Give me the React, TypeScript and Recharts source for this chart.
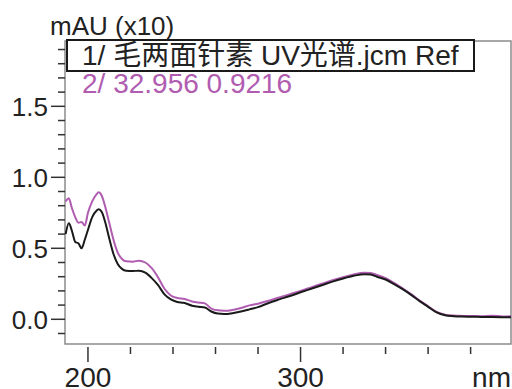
import React from "react";
import { Line, LineChart, ReferenceArea, XAxis, YAxis } from "recharts";

const wavelengths = [
  189.5, 191, 192.5, 194, 195.5, 197, 198.5, 200, 202, 204, 205, 206.5, 208, 210, 212, 214, 216, 218, 221,
  224, 227, 230, 233, 236, 239, 242, 245, 249, 252, 255, 258, 261, 264, 268, 272, 276, 280, 285, 290, 295,
  300, 305, 310, 315, 320, 325, 330, 333, 336, 340, 344, 348, 352, 356, 360, 364, 368, 372, 376, 380, 385,
  390, 395, 399,
];

const refSpectrum = [
  0.6, 0.676, 0.62, 0.545, 0.535, 0.5, 0.56, 0.63, 0.72, 0.765, 0.775, 0.755, 0.69, 0.57, 0.46, 0.39, 0.355,
  0.342, 0.34, 0.342, 0.328, 0.29, 0.24, 0.175, 0.14, 0.122, 0.116, 0.096, 0.088, 0.083, 0.055, 0.04, 0.037,
  0.043, 0.055, 0.07, 0.086, 0.115, 0.14, 0.164, 0.19, 0.215, 0.24, 0.265, 0.287, 0.306, 0.318, 0.316, 0.3,
  0.28, 0.248, 0.212, 0.172, 0.128, 0.088, 0.048, 0.028, 0.022, 0.019, 0.018, 0.017, 0.016, 0.015, 0.014,
];

const peakSpectrum = [
  0.83, 0.852, 0.78, 0.72, 0.68, 0.685, 0.66, 0.75, 0.83, 0.88, 0.894, 0.87, 0.8, 0.68, 0.56, 0.47, 0.425,
  0.408, 0.406, 0.413, 0.4, 0.36, 0.295, 0.215, 0.168, 0.15, 0.144, 0.126, 0.118, 0.112, 0.075, 0.063, 0.06,
  0.066, 0.08, 0.098, 0.11, 0.131, 0.153, 0.177, 0.2, 0.225, 0.25, 0.275, 0.297, 0.316, 0.328, 0.326, 0.312,
  0.29, 0.256, 0.218, 0.178, 0.132, 0.092, 0.052, 0.032, 0.026, 0.024, 0.023, 0.022, 0.025, 0.02, 0.022,
];

const xTicks = [200, 220, 240, 260, 280, 300, 320, 340, 360, 380];
const yTicks = [
  -0.1, 0, 0.1, 0.2, 0.3, 0.4, 0.5, 0.6, 0.7, 0.8, 0.9, 1.0, 1.1, 1.2, 1.3, 1.4, 1.5, 1.6, 1.7, 1.8, 1.9,
];

const legendRef = "1/ 毛两面针素 UV光谱.jcm Ref";
const legendPeak = "2/ 32.956 0.9216";

const X_DOMAIN: [number, number] = [189.2, 399];
const Y_DOMAIN: [number, number] = [-0.174, 1.96];

const PURPLE = "#b05cb0";
const FONT = '"Liberation Sans", Arial, "Noto Sans CJK SC", sans-serif';

const data = wavelengths.map((nm, i) => ({ nm, ref: refSpectrum[i], peak: peakSpectrum[i] }));

function YTick(props: any) {
  const { x, y, payload } = props;
  const major = Math.round(payload.value * 10) % 5 === 0;
  return (
    <g>
      <line x1={x - (major ? 14 : 7)} x2={x} y1={y} y2={y} stroke="#333" strokeWidth={1.5} />
      {major && (
        <text x={x - 17} y={y} dy="0.355em" textAnchor="end" fontSize={26} fontFamily={FONT} fill="#222">
          {payload.value.toFixed(1)}
        </text>
      )}
    </g>
  );
}

function XTick(props: any) {
  const { x, y, payload } = props;
  const major = payload.value % 100 === 0;
  return (
    <g>
      <line x1={x} x2={x} y1={y + 3} y2={y + (major ? 18 : 10)} stroke="#333" strokeWidth={1.5} />
      {major && (
        <text x={x} y={387} textAnchor="middle" fontSize={28} fontFamily={FONT} fill="#222">
          {payload.value}
        </text>
      )}
    </g>
  );
}

export default function App() {
  return (
    <div style={{ position: "absolute", left: 0, top: 0, width: 512, height: 389, background: "#fff" }}>
      <LineChart width={512} height={389} data={data} margin={{ top: 41, right: 1, bottom: 0, left: 0 }}>
        <XAxis
          dataKey="nm"
          type="number"
          domain={X_DOMAIN}
          ticks={xTicks}
          allowDataOverflow
          height={45}
          axisLine={false}
          tickLine={false}
          tickSize={0}
          tickMargin={0}
          tick={<XTick />}
          interval={0}
        />
        <YAxis
          type="number"
          domain={Y_DOMAIN}
          ticks={yTicks}
          allowDataOverflow
          width={65}
          axisLine={false}
          tickLine={false}
          tickSize={0}
          tickMargin={0}
          tick={<YTick />}
          interval={0}
        />
        <ReferenceArea
          x1={X_DOMAIN[0]}
          x2={X_DOMAIN[1]}
          y1={Y_DOMAIN[0]}
          y2={Y_DOMAIN[1]}
          fill="none"
          stroke="#8c8c8c"
          strokeWidth={1.5}
        />
        <Line dataKey="peak" type="monotone" stroke={PURPLE} strokeWidth={2} dot={false} isAnimationActive={false} />
        <Line dataKey="ref" type="monotone" stroke="#1a1a1a" strokeWidth={2} dot={false} isAnimationActive={false} />
      </LineChart>
      <svg
        width={512}
        height={389}
        style={{ position: "absolute", left: 0, top: 0, pointerEvents: "none" }}
        fontFamily={FONT}
      >
        <text x={50} y={35} fontSize={26} fill="#222">
          mAU (x10)
        </text>
        <rect x={67} y={40} width={407} height={31} fill="#fff" stroke="#1a1a1a" strokeWidth={2} />
        <text x={82} y={65} fontSize={28} fill="#222">
          {legendRef}
        </text>
        <text x={82} y={93} fontSize={28} fill={PURPLE}>
          {legendPeak}
        </text>
        <text x={511} y={387} fontSize={28} textAnchor="end" fill="#222">
          nm
        </text>
      </svg>
    </div>
  );
}
